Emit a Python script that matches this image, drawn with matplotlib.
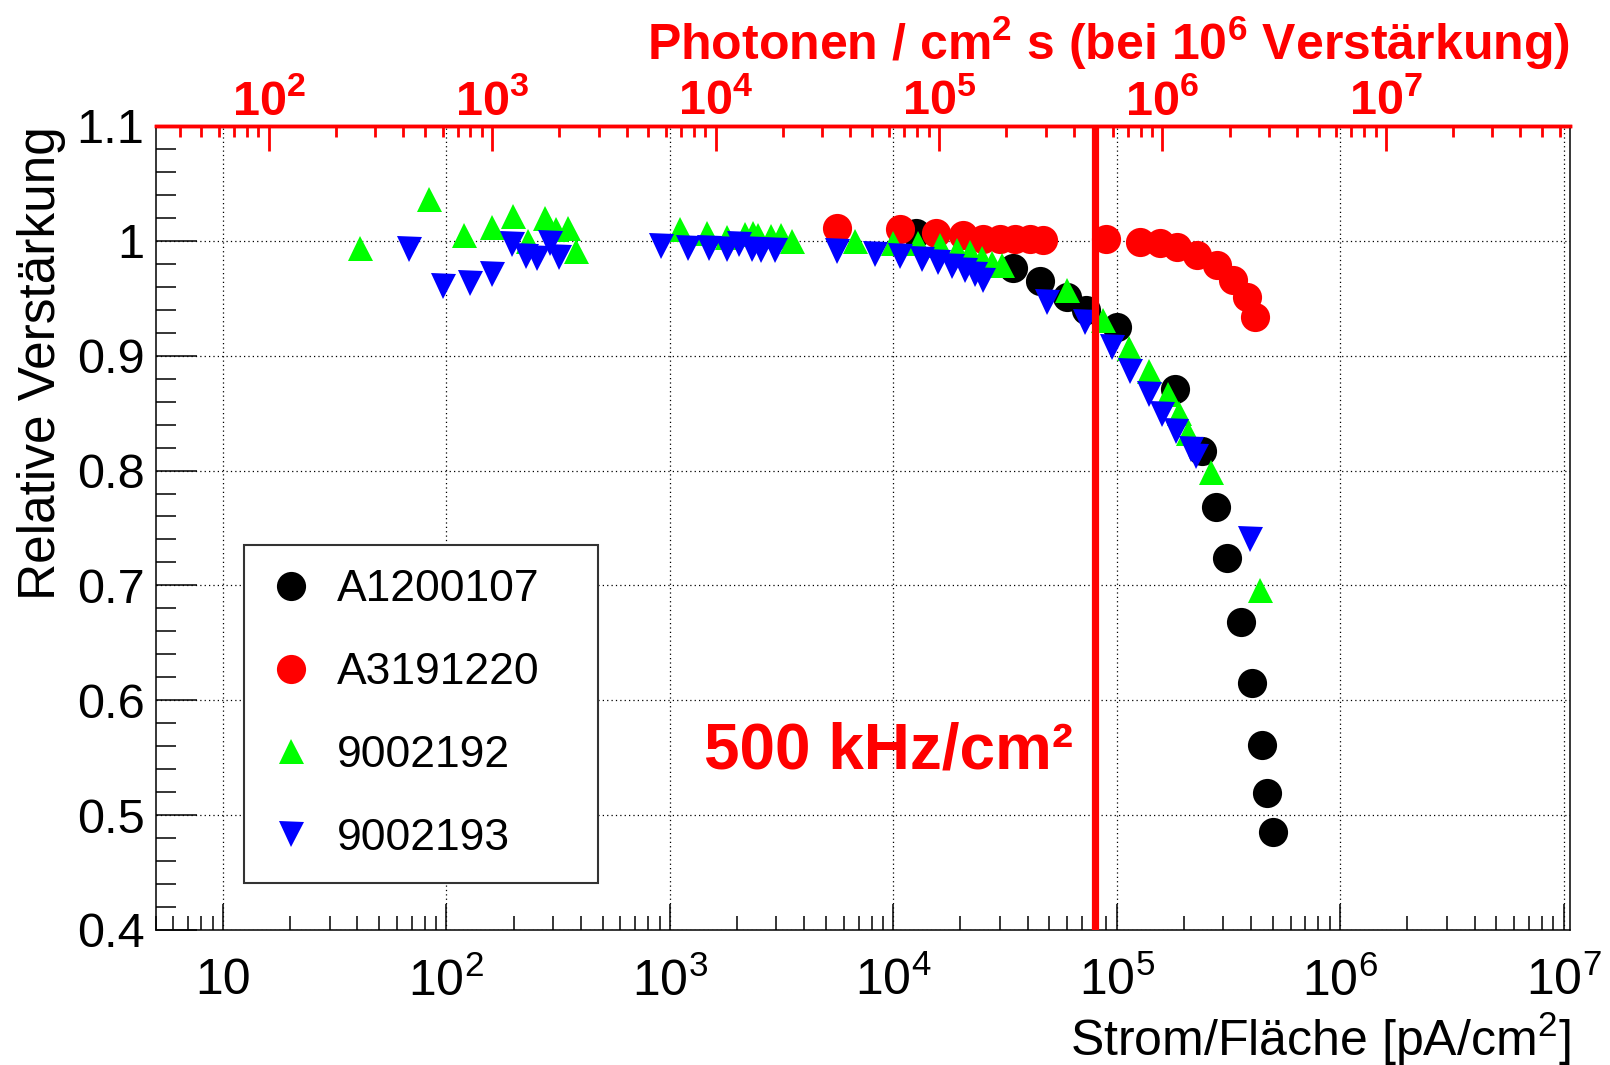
import numpy as np
import matplotlib
matplotlib.use('Agg')
import matplotlib.pyplot as plt
from matplotlib.ticker import LogLocator, MultipleLocator, FuncFormatter, NullFormatter

plt.rcParams['font.family'] = ['Liberation Sans', 'DejaVu Sans']
plt.rcParams['mathtext.fontset'] = 'custom'
plt.rcParams['mathtext.rm'] = 'Liberation Sans'
plt.rcParams['mathtext.it'] = 'Liberation Sans:italic'
plt.rcParams['mathtext.bf'] = 'Liberation Sans:bold'

# photons / cm2 s per pA/cm2 (at gain 1e6)
K = 6.24
rate_line = 5e5  # 500 kHz/cm2 in photons

labels = ['A1200107', 'A3191220', '9002192', '9002193']
bottom_ticks = [1e1, 1e2, 1e3, 1e4, 1e5, 1e6, 1e7]
top_ticks = [1e2, 1e3, 1e4, 1e5, 1e6, 1e7]

black_x = [1.27e4, 3.45e4, 4.54e4, 6.0e4, 7.3e4, 1.0e5, 1.83e5, 2.42e5, 2.78e5,
           3.12e5, 3.62e5, 4.03e5, 4.45e5, 4.72e5, 5.02e5]
black_y = [1.007, 0.976, 0.965, 0.951, 0.940, 0.925, 0.871, 0.817, 0.768,
           0.724, 0.668, 0.615, 0.561, 0.519, 0.485]

red_x = [5.6e3, 1.07e4, 1.56e4, 2.06e4, 2.53e4, 3.0e4, 3.5e4, 4.1e4, 4.7e4,
         9.0e4, 1.27e5, 1.56e5, 1.86e5, 2.28e5, 2.81e5, 3.33e5, 3.82e5, 4.16e5]
red_y = [1.011, 1.010, 1.007, 1.005, 1.002, 1.0015, 1.0015, 1.0015, 1.001,
         1.002, 0.999, 0.998, 0.995, 0.9875, 0.979, 0.966, 0.951, 0.9335]

green_x = [41, 84, 120, 160, 198, 232, 275, 310, 350, 381,
           1110, 1460, 1800, 2170, 2360, 2480, 2850, 3160, 3510,
           6740, 1.0e4, 1.29e4, 1.62e4, 1.92e4, 2.2e4, 2.49e4, 2.76e4, 3.06e4,
           5.97e4, 8.7e4, 1.13e5, 1.39e5, 1.69e5, 1.91e5, 2.08e5, 2.65e5, 4.4e5]
green_y = [0.994, 1.036, 1.005, 1.012, 1.022, 1.0, 1.020, 1.010, 1.011, 0.991,
           1.010, 1.007, 1.003, 1.006, 1.007, 1.005, 1.004, 1.005, 1.0,
           1.0, 0.998, 0.998, 0.996, 0.992, 0.990, 0.985, 0.981, 0.979,
           0.957, 0.9315, 0.907, 0.8865, 0.867, 0.850, 0.833, 0.799, 0.696]

blue_x = [67.8, 96.6, 127, 160.6, 196, 228, 254, 290, 318,
          918, 1208, 1500, 1810, 2042, 2330, 2570, 2950,
          5610, 8280, 1.07e4, 1.34e4, 1.59e4, 1.83e4, 2.09e4, 2.32e4, 2.53e4,
          4.86e4, 7.21e4, 9.49e4, 1.15e5, 1.39e5, 1.60e5, 1.84e5, 2.15e5, 2.27e5, 3.96e5]
blue_y = [0.993, 0.9605, 0.963, 0.971, 0.997, 0.987, 0.985, 0.998, 0.986,
          0.9956, 0.994, 0.994, 0.993, 0.997, 0.993, 0.992, 0.992,
          0.991, 0.9885, 0.987, 0.9846, 0.982, 0.978, 0.975, 0.9715, 0.966,
          0.9466, 0.929, 0.908, 0.8865, 0.867, 0.849, 0.834, 0.819, 0.813, 0.740]

fig = plt.figure(figsize=(16.1, 10.65), dpi=100)
ax = fig.add_axes([0.0967, 0.1268, 0.9752 - 0.0967, 0.8817 - 0.1268])

ax.plot(black_x, black_y, ls='', marker='o', color='black', ms=21, mew=0, label=labels[0])
ax.plot(red_x, red_y, ls='', marker='o', color='#ff0000', ms=21, mew=0, label=labels[1])
ax.plot(green_x, green_y, ls='', marker='^', color='#00ff00', ms=18, mew=0, label=labels[2])
ax.plot(blue_x, blue_y, ls='', marker='v', color='#0000ff', ms=18, mew=0, label=labels[3])

ax.axvline(rate_line / K, color='#ff0000', lw=5.2, zorder=4)
ax.text(6.37e4, 0.555, '500 kHz/cm²', color='#ff0000', fontsize=46, fontweight='bold',
        ha='right', va='center')

ax.set_xscale('log')
ax.set_xlim(5, 1.07e7)
ax.set_ylim(0.4, 1.1)


def fmt_bottom(v, pos):
    n = int(round(np.log10(v)))
    if n == 1:
        return '10'
    return r'$10^{%d}$' % n


def fmt_top(v, pos):
    n = int(round(np.log10(v)))
    return r'$\mathbf{10^{%d}}$' % n


ax.set_xticks(bottom_ticks)
ax.xaxis.set_minor_locator(LogLocator(base=10, subs=np.arange(2, 10), numticks=20))
ax.xaxis.set_major_formatter(FuncFormatter(fmt_bottom))
ax.xaxis.set_minor_formatter(NullFormatter())
ax.yaxis.set_major_locator(MultipleLocator(0.1))
ax.yaxis.set_minor_locator(MultipleLocator(0.02))
ax.yaxis.set_major_formatter(FuncFormatter(lambda v, p: '%g' % round(v, 2)))
ax.set_xlim(5, 1.07e7)

ax.tick_params(axis='x', which='major', direction='in', length=19, width=1.1,
               labelsize=36, pad=20, top=False)
ax.tick_params(axis='x', which='minor', direction='in', length=10, width=1.1, top=False)
ax.tick_params(axis='y', which='major', direction='in', length=29.5, width=1.1,
               labelsize=35, pad=8, right=False)
ax.tick_params(axis='y', which='minor', direction='in', length=14.4, width=1.1, right=False)

ax.grid(True, which='major', color='black', linestyle=(0, (1, 2.5)), linewidth=0.9)

for s in ['left', 'bottom', 'right']:
    ax.spines[s].set_linewidth(1.1)
ax.spines['top'].set_color('#ff0000')
ax.spines['top'].set_linewidth(2.5)

ax.set_xlabel('Strom/Fläche [pA/cm$^{2}$]', fontsize=36, loc='right', labelpad=3)
ax.set_ylabel('Relative Verstärkung', fontsize=37, loc='top', labelpad=8)

secax = ax.secondary_xaxis('top', functions=(lambda x: x * K, lambda x: x / K))
secax.set_xticks(top_ticks)
secax.xaxis.set_minor_locator(LogLocator(base=10, subs=np.arange(2, 10), numticks=20))
secax.xaxis.set_major_formatter(FuncFormatter(fmt_top))
secax.xaxis.set_minor_formatter(NullFormatter())
secax.tick_params(axis='x', which='major', direction='in', length=18, width=2,
                  colors='#ff0000', labelsize=35, pad=0.5)
secax.tick_params(axis='x', which='minor', direction='in', length=8, width=2, colors='#ff0000')
secax.spines['top'].set_color('#ff0000')
secax.spines['top'].set_linewidth(2.5)
secax.set_xlabel(r'Photonen / cm$^{\mathbf{2}}$ s (bei 10$^{\mathbf{6}}$ Verstärkung)',
                 color='#ff0000', fontweight='bold', fontsize=36, loc='right', labelpad=14)

leg = ax.legend(loc='upper left', bbox_to_anchor=(0.0624, 0.0672, 0.2503, 0.4117),
                mode='expand', borderaxespad=0, fontsize=32, handlelength=1.0,
                handletextpad=0.55, borderpad=0.55, labelspacing=0.94,
                frameon=True, fancybox=False, edgecolor='#333333', framealpha=1)
leg.get_frame().set_linewidth(1.5)

plt.savefig('out.png', dpi=100)
